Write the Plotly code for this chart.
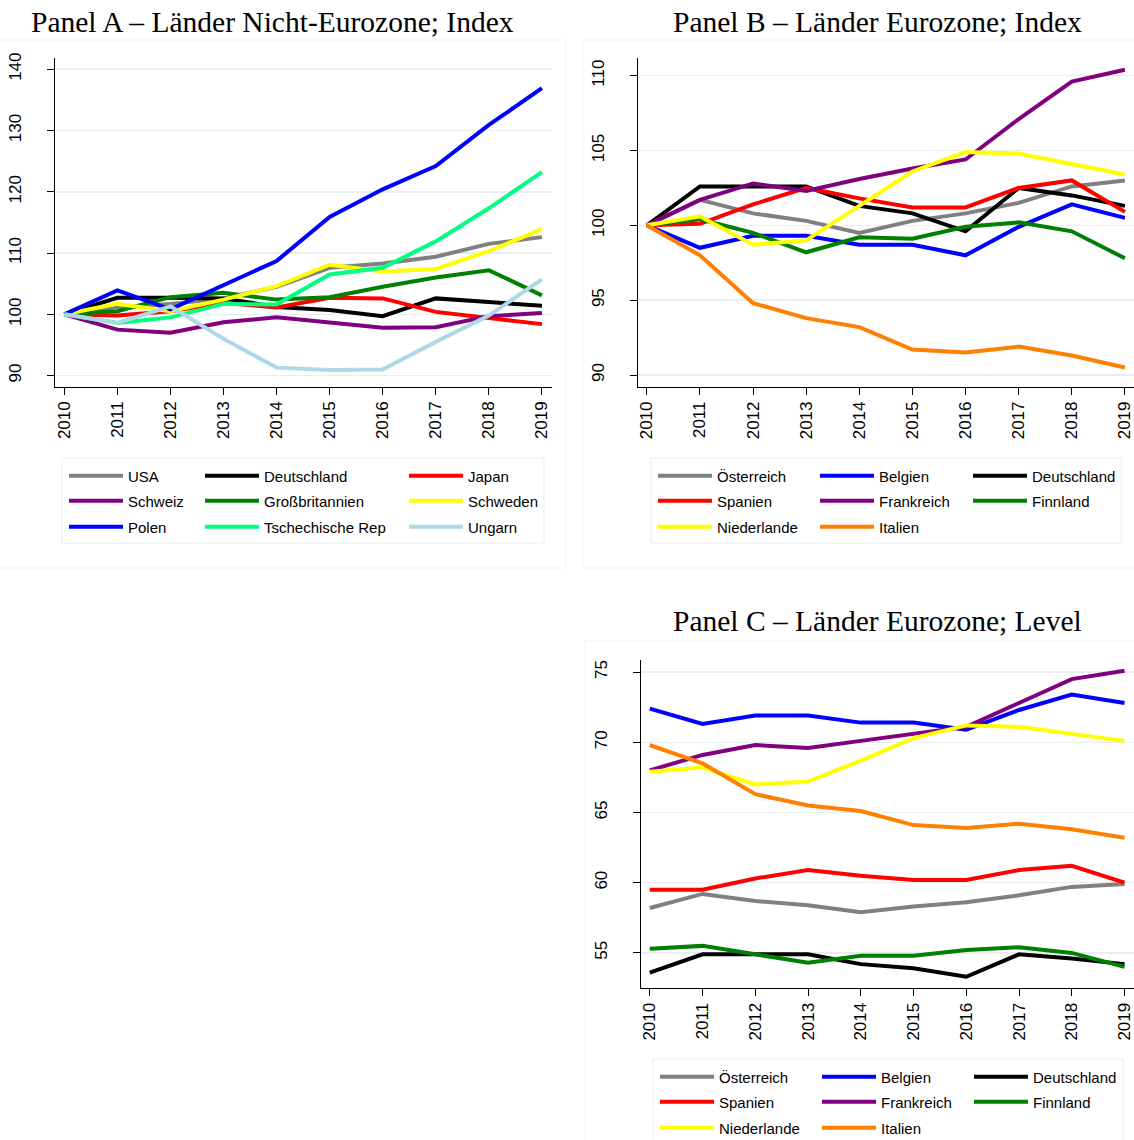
import plotly.graph_objects as go

# ---------------- DATA ----------------
years = [2010, 2011, 2012, 2013, 2014, 2015, 2016, 2017, 2018, 2019]

# Panel A – Länder Nicht-Eurozone; Index
a_usa = [100, 101.2, 101.7, 102.6, 104.5, 107.6, 108.3, 109.4, 111.5, 112.6]
a_deutschland = [100, 102.7, 102.7, 102.6, 101.2, 100.7, 99.7, 102.6, 102.0, 101.4]
a_japan = [100, 99.8, 100.5, 101.9, 101.1, 102.7, 102.6, 100.4, 99.4, 98.4]
a_schweiz = [100, 97.5, 97.0, 98.7, 99.5, 98.6, 97.8, 97.9, 99.7, 100.2]
a_grossbritannien = [100, 100.5, 102.8, 103.5, 102.4, 102.8, 104.5, 106.0, 107.2, 103.1]
a_schweden = [100, 101.7, 100.5, 102.4, 104.6, 108.1, 107.0, 107.4, 110.3, 113.9]
a_polen = [100, 103.9, 100.8, 104.7, 108.7, 115.9, 120.4, 124.2, 130.9, 136.9]
a_tschechien = [100, 98.6, 99.5, 101.7, 101.6, 106.5, 107.6, 111.9, 117.3, 123.2]
a_ungarn = [100, 98.6, 101.3, 96.0, 91.3, 90.9, 91.0, 95.5, 99.8, 105.7]

# Panel B – Länder Eurozone; Index
b_oesterreich = [100, 101.7, 100.8, 100.3, 99.5, 100.3, 100.8, 101.5, 102.6, 103.0]
b_belgien = [100, 98.5, 99.3, 99.3, 98.7, 98.7, 98.0, 99.9, 101.4, 100.5]
b_deutschland = [100, 102.6, 102.6, 102.6, 101.3, 100.8, 99.6, 102.5, 102.0, 101.3]
b_spanien = [100, 100.1, 101.4, 102.5, 101.8, 101.2, 101.2, 102.5, 103.0, 100.9]
b_frankreich = [100, 101.7, 102.8, 102.3, 103.1, 103.8, 104.4, 107.1, 109.6, 110.4]
b_finnland = [100, 100.4, 99.5, 98.2, 99.2, 99.1, 99.9, 100.2, 99.6, 97.8]
b_niederlande = [100, 100.6, 98.7, 99.0, 101.3, 103.6, 104.9, 104.8, 104.1, 103.4]
b_italien = [100, 98.0, 94.8, 93.8, 93.2, 91.7, 91.5, 91.9, 91.3, 90.5]

# Panel C – Länder Eurozone; Level
c_oesterreich = [58.2, 59.2, 58.7, 58.4, 57.9, 58.3, 58.6, 59.1, 59.7, 59.9]
c_belgien = [72.4, 71.3, 71.9, 71.9, 71.4, 71.4, 70.9, 72.3, 73.4, 72.8]
c_deutschland = [53.6, 54.9, 54.9, 54.9, 54.2, 53.9, 53.3, 54.9, 54.6, 54.2]
c_spanien = [59.5, 59.5, 60.3, 60.9, 60.5, 60.2, 60.2, 60.9, 61.2, 60.0]
c_frankreich = [68.0, 69.1, 69.8, 69.6, 70.1, 70.6, 71.1, 72.8, 74.5, 75.1]
c_finnland = [55.3, 55.5, 54.9, 54.3, 54.8, 54.8, 55.2, 55.4, 55.0, 54.0]
c_niederlande = [67.9, 68.2, 67.0, 67.2, 68.7, 70.3, 71.2, 71.1, 70.6, 70.1]
c_italien = [69.8, 68.5, 66.3, 65.5, 65.1, 64.1, 63.9, 64.2, 63.8, 63.2]

titles = ["Panel A – Länder Nicht-Eurozone; Index",
          "Panel B – Länder Eurozone; Index",
          "Panel C – Länder Eurozone; Level"]

a_ticks = [90, 100, 110, 120, 130, 140]
b_ticks = [90, 95, 100, 105, 110]
c_ticks = [55, 60, 65, 70, 75]

# ---------------- STYLE / LAYOUT ----------------
W, H = 1134, 1140
def fx(px):
    return px / W
def fy(py):
    return 1 - py / H

GRAY, BLACK, RED, PURPLE = "#808080", "#000000", "#ff0000", "#800080"
GREEN, YELLOW, BLUE = "#008000", "#ffff00", "#0000ff"
SPRING, LBLUE, ORANGE = "#00ff7f", "#add8e6", "#ff7f00"
GRID = "#e6eef0"
FRAME = "#edf2f3"

LW = 4
fig = go.Figure()

def add(x_ax, y_ax, name, vals, color, legend, lwidth=None):
    tr = go.Scatter(x=years, y=vals, name=name, mode="lines",
                    line=dict(color=color, width=LW),
                    xaxis=x_ax, yaxis=y_ax, legend=legend,
                    hoverinfo="skip")
    if lwidth is not None:
        tr.legendwidth = lwidth
    fig.add_trace(tr)

# Panel A
A = [("USA", a_usa, GRAY), ("Deutschland", a_deutschland, BLACK), ("Japan", a_japan, RED),
     ("Schweiz", a_schweiz, PURPLE), ("Großbritannien", a_grossbritannien, GREEN), ("Schweden", a_schweden, YELLOW),
     ("Polen", a_polen, BLUE), ("Tschechische Rep", a_tschechien, SPRING), ("Ungarn", a_ungarn, LBLUE)]
a_widths = [67, 135, 90]
for i, (n, v, c) in enumerate(A):
    leg = ["legend", "legend2", "legend3"][i // 3]
    add("x", "y", n, v, c, leg, a_widths[i % 3])

B = [("Österreich", b_oesterreich, GRAY), ("Belgien", b_belgien, BLUE), ("Deutschland", b_deutschland, BLACK),
     ("Spanien", b_spanien, RED), ("Frankreich", b_frankreich, PURPLE), ("Finnland", b_finnland, GREEN),
     ("Niederlande", b_niederlande, YELLOW), ("Italien", b_italien, ORANGE)]
b_widths = [93, 84, 90]
for i, (n, v, c) in enumerate(B):
    leg = ["legend4", "legend5", "legend6"][i // 3]
    add("x2", "y2", n, v, c, leg, b_widths[i % 3])

C = [("Österreich", c_oesterreich, GRAY), ("Belgien", c_belgien, BLUE), ("Deutschland", c_deutschland, BLACK),
     ("Spanien", c_spanien, RED), ("Frankreich", c_frankreich, PURPLE), ("Finnland", c_finnland, GREEN),
     ("Niederlande", c_niederlande, YELLOW), ("Italien", c_italien, ORANGE)]
c_widths = [93, 83, 90]
for i, (n, v, c) in enumerate(C):
    leg = ["legend7", "legend8", "legend9"][i // 3]
    add("x3", "y3", n, v, c, leg, c_widths[i % 3])

TICKFONT = dict(family="Liberation Sans, Arial, sans-serif", size=17, color="black")

def xaxis(domain, rng, anchor):
    return dict(domain=domain, range=rng, anchor=anchor, tickvals=years,
                tickangle=-90, showgrid=False, zeroline=False, showline=True,
                linecolor="black", linewidth=1, ticks="outside", ticklen=7,
                tickcolor="black", tickfont=TICKFONT, ticklabeloverflow="allow",
                fixedrange=True)

def yaxis(domain, rng, anchor, ticks):
    return dict(domain=domain, range=rng, anchor=anchor, tickvals=ticks,
                tickangle=-90, showgrid=True, gridcolor=GRID, gridwidth=1.5,
                zeroline=False, showline=True, linecolor="black", linewidth=1,
                ticks="outside", ticklen=7, tickcolor="black", tickfont=TICKFONT,
                ticklabelstandoff=19, ticklabeloverflow="allow", fixedrange=True)

LEGFONT = dict(family="Liberation Sans, Arial, sans-serif", size=15, color="black")

def legend(x_px, y_px):
    return dict(orientation="h", x=fx(x_px), y=fy(y_px), xref="container", yref="container",
                xanchor="left", yanchor="middle",
                bgcolor="rgba(0,0,0,0)", borderwidth=0, font=LEGFONT, itemwidth=54,
                traceorder="normal")

legends = {}
rowsAB = [476, 501, 527]
rowsC = [1077, 1102, 1128]
for k, y in enumerate(rowsAB):
    legends[["legend", "legend2", "legend3"][k]] = legend(64, y)
    legends[["legend4", "legend5", "legend6"][k]] = legend(653, y)
for k, y in enumerate(rowsC):
    legends[["legend7", "legend8", "legend9"][k]] = legend(655, y)

def title_ann(text, x_px, y_px):
    return dict(text=text, x=fx(x_px), y=fy(y_px), xref="paper", yref="paper",
                xanchor="center", yanchor="middle", showarrow=False,
                font=dict(family="Liberation Serif, Times New Roman, serif", size=29.5, color="black"))

def frame(x0, y0, x1, y1, color=FRAME):
    return dict(type="rect", xref="paper", yref="paper", x0=fx(x0), x1=fx(x1),
                y0=fy(y1), y1=fy(y0), line=dict(color=color, width=1),
                fillcolor="rgba(0,0,0,0)", layer="below")

fig.update_layout(
    width=W, height=H, margin=dict(l=0, r=0, t=0, b=0, autoexpand=False),
    paper_bgcolor="white", plot_bgcolor="white",
    xaxis=xaxis([fx(55), fx(552)], [2009.825, 2019.19], "y"),
    yaxis=yaxis([fy(386.5), fy(58)], [88.22, 141.83], "x", a_ticks),
    xaxis2=xaxis([fx(638), 1.0], [2009.834, 2019.171], "y2"),
    yaxis2=yaxis([fy(386.7), fy(58)], [89.22, 111.18], "x2", b_ticks),
    xaxis3=xaxis([fx(641), 1.0], [2009.834, 2019.18], "y3"),
    yaxis3=yaxis([fy(988), fy(660)], [52.5, 75.86], "x3", c_ticks),
    annotations=[title_ann(titles[0], 272, 22), title_ann(titles[1], 877, 22),
                 title_ann(titles[2], 877, 621)],
    shapes=[frame(-2, 40, 566, 568), frame(583, 40, 1136, 568), frame(585, 641, 1136, 1142),
            frame(62, 458, 544, 543, GRID), frame(651, 458, 1121, 543, GRID),
            frame(653, 1059, 1123, 1145, GRID)],
    showlegend=True,
    **legends,
)

fig.write_html("out.html", include_plotlyjs=True, full_html=True,
               config={"displayModeBar": False, "staticPlot": True},
               post_script="document.body.style.margin='0';document.body.style.overflow='hidden';")
